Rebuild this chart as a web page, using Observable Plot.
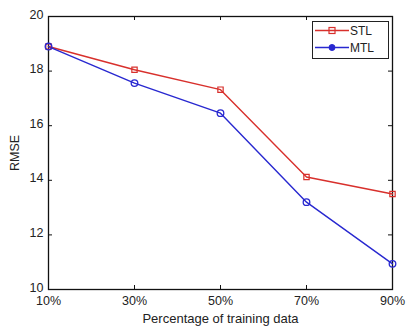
<!DOCTYPE html>
<html><head><meta charset="utf-8">
<script src="https://cdn.jsdelivr.net/npm/d3@7"></script>
<script src="https://cdn.jsdelivr.net/npm/@observablehq/plot@0.6"></script>
<style>
body{margin:0;background:#fff;font-family:"Liberation Sans",Arial,sans-serif;}
#wrap{position:relative;width:409px;height:328px;}
#legend{position:absolute;left:312px;top:21px;width:75px;height:36px;border:1px solid #222;background:#fff;font-size:12px;color:#222;}
#legend div{display:flex;align-items:center;height:17px;padding-left:2px;}
#legend svg{margin-right:1px;}
</style></head><body>
<div id="wrap"><div id="legend"></div></div>
<script>
const pct = [10, 30, 50, 70, 90];
const stl = [18.9, 18.05, 17.32, 14.12, 13.5];
const mtl = [18.9, 17.56, 16.46, 13.2, 10.94];
const yTicks = [10, 12, 14, 16, 18, 20];
const series = [
  {name: "STL", values: stl, color: "#d8302c", symbol: "square"},
  {name: "MTL", values: mtl, color: "#2828d0", symbol: "circle"}
];
const data = series.flatMap(s => pct.map((p, i) => ({p, v: s.values[i], name: s.name})));
const colorScale = {domain: series.map(s => s.name), range: series.map(s => s.color)};
const W = 409, H = 328, mL = 48, mR = 17, mT = 16, mB = 39;
const fh = H - mT - mB, fw = W - mL - mR, tk = 4;
const chart = Plot.plot({
  width: W, height: H,
  marginLeft: mL, marginRight: mR, marginTop: mT, marginBottom: mB,
  style: {fontFamily: "'Liberation Sans', Arial, sans-serif", fontSize: "13px", color: "#222", background: "#fff"},
  x: {domain: [10, 90]},
  y: {domain: [10, 20]},
  color: colorScale,
  marks: [
    Plot.frame({stroke: "#111", strokeWidth: 1.3}),
    Plot.ruleX(pct, {x: d => d, insetTop: fh - tk, stroke: "#111"}),
    Plot.ruleX(pct, {x: d => d, insetBottom: fh - tk, stroke: "#111"}),
    Plot.ruleY(yTicks, {y: d => d, insetRight: fw - tk, stroke: "#111"}),
    Plot.ruleY(yTicks, {y: d => d, insetLeft: fw - tk, stroke: "#111"}),
    Plot.axisX(pct, {tickSize: 0, tickPadding: 7, tickFormat: d => d + "%", label: null, fontSize: 12.5}),
    Plot.axisX({tickSize: 0, ticks: [], label: "Percentage of training data", labelAnchor: "center", labelArrow: "none", labelOffset: 33, fontSize: 13}),
    Plot.axisY(yTicks, {tickSize: 0, tickPadding: 5, dy: -2, label: "RMSE", labelAnchor: "center", labelArrow: "none", labelOffset: 38, fontSize: 12.5}),
    Plot.line(data, {x: "p", y: "v", z: "name", stroke: "name", strokeWidth: 1.4}),
    Plot.dot(data.filter(d => d.name === "STL"), {x: "p", y: "v", stroke: "name", symbol: "square", r: 3, strokeWidth: 1.2, fill: "none"}),
    Plot.dot(data.filter(d => d.name === "MTL"), {x: "p", y: "v", stroke: "name", symbol: "circle", r: 3.3, strokeWidth: 1.3, fill: "none"})
  ]
});
document.getElementById("wrap").prepend(chart);
const leg = document.getElementById("legend");
series.forEach(s => {
  const row = document.createElement("div");
  const mk = s.symbol === "square"
    ? `<rect x="14" y="4.5" width="6" height="6" fill="none" stroke="${s.color}" stroke-width="1.2"/>`
    : `<circle cx="17" cy="7.5" r="3" fill="${s.color}" stroke="${s.color}"/>`;
  row.innerHTML = `<svg width="34" height="15"><line x1="0" x2="34" y1="7.5" y2="7.5" stroke="${s.color}" stroke-width="1.4"/>${mk}</svg><span>${s.name}</span>`;
  leg.appendChild(row);
});
</script>
</body></html>
